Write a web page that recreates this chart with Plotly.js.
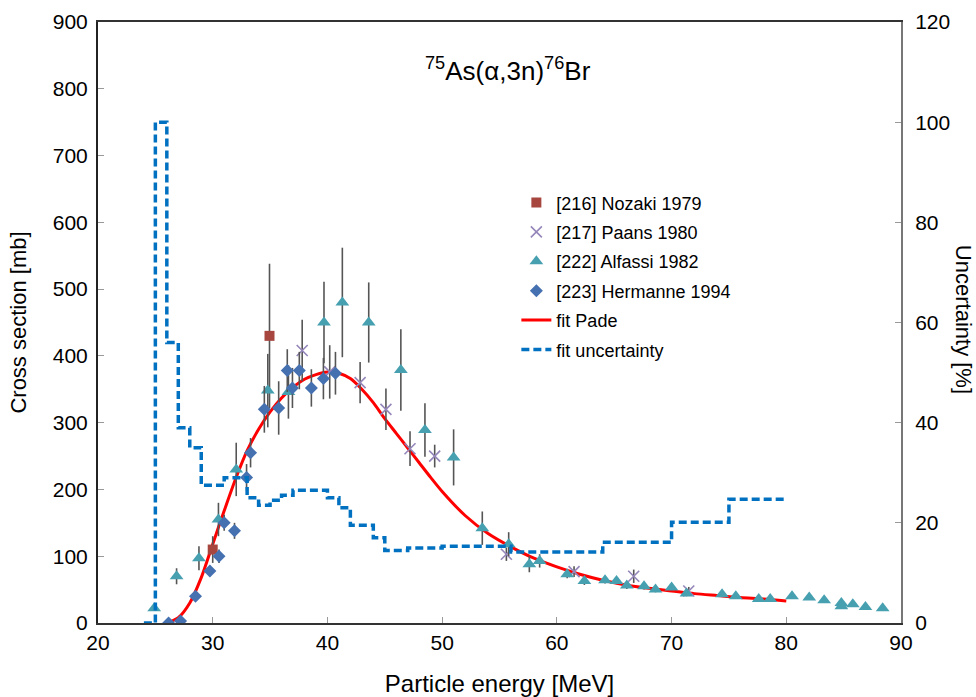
<!DOCTYPE html>
<html>
<head>
<meta charset="utf-8">
<script src="https://cdn.plot.ly/plotly-3.0.1.min.js"></script>
<style>html,body{margin:0;padding:0;background:#fff;}#chart{width:976px;height:697px;}</style>
</head>
<body>
<div id="chart"></div>
<script>
// ---- Data ----
const nozE = [30.0, 34.95];
const nozS = [110, 430];
const nozErr = [20, 108];

const paE = [37.8, 40.2, 42.85, 45.1, 47.2, 49.35, 55.6, 61.5, 66.7, 71.5];
const paS = [408, 376, 360, 320, 261, 250, 103, 77, 70, 48];
const paErr = [46, 40, 31, 31, 26, 17, 10, 8, 10, 6];

const alE = [24.9, 26.85, 28.8, 30.5, 32.05, 34.8, 36.6, 39.7, 41.3, 43.6, 46.4, 48.5, 51.0, 53.5, 55.8, 57.6, 58.5, 60.9, 62.4, 64.2, 65.2, 66.1, 67.6, 68.6, 70.0, 71.3, 74.4, 75.6, 77.6, 78.6, 80.5, 82.0, 83.3, 84.8, 84.8, 85.8, 86.9, 88.4];
const alS = [22, 70, 97, 155, 230, 348, 346, 450, 480, 450, 379, 289, 248, 142, 118, 88, 93, 73, 63, 64, 63, 56, 55, 50, 53, 44, 43, 40, 36, 36, 40, 38, 34, 30, 25, 28, 24, 22];
const alErr = [0, 12, 18, 25, 40, 55, 40, 61, 82, 60, 61, 40, 42, 25, 18, 12, 10, 6, 6, 5, 5, 5, 5, 4, 4, 4, 4, 3, 3, 3, 3, 3, 3, 3, 3, 2, 2, 2];

const heE = [26.15, 27.2, 28.5, 29.75, 30.55, 31.0, 31.9, 32.95, 33.3, 34.5, 35.75, 36.5, 36.95, 37.55, 38.6, 39.65, 40.7];
const heS = [0, 3, 40, 78, 100, 150, 138, 218, 255, 320, 322, 378, 352, 378, 352, 366, 374];
const heErr = [2, 3, 5, 8, 10, 12, 12, 20, 22, 35, 40, 32, 30, 28, 28, 31, 32];

const fitE = [26, 27, 28, 29, 30, 31, 32, 33, 34, 35, 36, 37, 38, 39, 40, 41, 42, 43, 44, 45, 46, 47, 48, 49, 50, 52, 54, 56, 58, 60, 62, 64, 66, 68, 70, 72, 74, 76, 78, 80];
const fitS = [0, 8, 30, 68, 118, 168, 216, 258, 290, 316, 337, 353, 365, 372, 376, 374, 366, 350, 330, 306, 284, 262, 240, 218, 197, 161, 134, 114, 97, 84, 73, 64, 57, 52, 48, 44, 41, 38, 36, 33];

const uncE = [24, 25, 26, 27, 28, 29, 31, 33, 34, 35, 36, 37, 40, 41, 42, 44, 45, 47, 50, 56, 64, 70, 75, 80];
const uncU = [0, 100, 56, 39, 35, 27.5, 29, 25, 23.5, 24.5, 25.5, 26.5, 25, 23, 19.5, 17, 14.5, 15, 15.3, 14.2, 16.1, 20.1, 24.7, 24.7];

const xTicks = [20, 30, 40, 50, 60, 70, 80, 90];
const titleText = '<sup>75</sup>As(\u03b1,3n)<sup>76</sup>Br';

// ---- Traces ----
const FONT = 'Liberation Sans, Arial, sans-serif';
const errStyle = (arr) => ({type: 'data', array: arr, visible: true, color: '#555555', thickness: 1.6, width: 0});

const traces = [
  {x: fitE, y: fitS, type: 'scatter', mode: 'lines', name: 'fit Pade',
   line: {color: '#FF0000', width: 3, shape: 'spline', smoothing: 0.8},
   legendgroup: 'g5', legendrank: 5},
  {x: nozE, y: nozS, type: 'scatter', mode: 'markers', name: '[216] Nozaki 1979',
   marker: {symbol: 'square', size: 10, color: '#A6463F'}, error_y: errStyle(nozErr),
   legendgroup: 'g1', legendrank: 1},
  {x: paE, y: paS, type: 'scatter', mode: 'markers', name: '[217] Paans 1980',
   marker: {symbol: 'x-thin', size: 11, color: '#9586BA', line: {color: '#9586BA', width: 1.6}}, error_y: errStyle(paErr),
   legendgroup: 'g2', legendrank: 2},
  {x: alE, y: alS, type: 'scatter', mode: 'markers', name: '[222] Alfassi 1982',
   marker: {symbol: 'triangle-up', size: 12, color: '#46A0B0'}, error_y: errStyle(alErr),
   legendgroup: 'g3', legendrank: 3},
  {x: heE, y: heS, type: 'scatter', mode: 'markers', name: '[223] Hermanne 1994',
   marker: {symbol: 'diamond', size: 10, color: '#4671B0'}, error_y: errStyle(heErr),
   legendgroup: 'g4', legendrank: 4},
  {x: uncE, y: uncU, type: 'scatter', mode: 'lines', name: 'fit uncertainty', yaxis: 'y2',
   line: {color: '#0070C0', width: 3.5, shape: 'hv', dash: '8px,4px'},
   legendgroup: 'g6', legendrank: 6}
];

const layout = {
  width: 976, height: 697,
  margin: {l: 98, r: 75, t: 22, b: 74, pad: 0},
  paper_bgcolor: '#ffffff', plot_bgcolor: '#ffffff',
  font: {family: FONT, color: '#000000', size: 21},
  showlegend: true,
  legend: {x: 0.521, y: 0.73, xanchor: 'left', yanchor: 'top',
           font: {family: FONT, size: 18, color: '#000000'},
           bgcolor: 'rgba(0,0,0,0)', borderwidth: 0, tracegroupgap: 3, traceorder: 'grouped'},
  xaxis: {range: [20, 90], tickvals: xTicks, ticks: 'inside', ticklen: 6, tickcolor: '#999999', tickwidth: 1,
          showline: true, linecolor: '#333333', linewidth: 2, mirror: true, showgrid: false, zeroline: false,
          tickfont: {family: FONT, size: 21, color: '#000000'},
          title: {text: 'Particle energy [MeV]', font: {family: FONT, size: 24, color: '#000000'}, standoff: 22}},
  yaxis: {range: [0, 900], dtick: 100, ticks: 'inside', ticklen: 6, tickcolor: '#999999', tickwidth: 1,
          showline: true, linecolor: '#222222', linewidth: 2, showgrid: false, zeroline: false,
          ticklabelstandoff: 4,
          tickfont: {family: FONT, size: 21, color: '#000000'},
          title: {text: 'Cross section [mb]', font: {family: FONT, size: 22, color: '#000000'}, standoff: 20}},
  yaxis2: {range: [0, 120], dtick: 20, overlaying: 'y', side: 'right', ticks: 'inside', ticklen: 6,
           tickcolor: '#999999', tickwidth: 1, showline: true, linecolor: '#777777', linewidth: 2,
           ticklabelstandoff: 8,
           showgrid: false, zeroline: false, tickfont: {family: FONT, size: 21, color: '#000000'}},
  annotations: [
    {text: titleText, xref: 'paper', yref: 'paper', x: 0.511, y: 0.921, xanchor: 'center', yanchor: 'middle',
     showarrow: false, font: {family: FONT, size: 26, color: '#000000'}},
    {text: 'Uncertainty [%]', xref: 'paper', yref: 'paper', x: 1.078, y: 0.505, xanchor: 'center', yanchor: 'middle',
     textangle: 90, showarrow: false, font: {family: FONT, size: 22, color: '#000000'}}
  ]
};

Plotly.newPlot('chart', traces, layout, {displayModeBar: false, staticPlot: true});
</script>
</body>
</html>
